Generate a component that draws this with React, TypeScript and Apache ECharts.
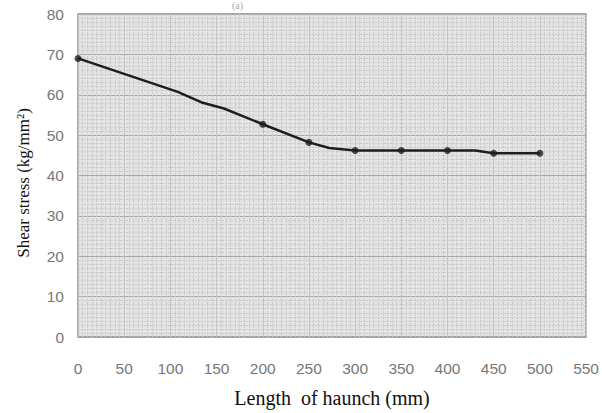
import React, { useEffect, useRef } from "react";
import * as echarts from "echarts";

const xTicks = [0, 50, 100, 150, 200, 250, 300, 350, 400, 450, 500, 550];
const yTicks = [0, 10, 20, 30, 40, 50, 60, 70, 80];
// measured points (with markers)
const markerX = [0, 200, 250, 300, 350, 400, 450, 500];
const markerY = [69, 52.7, 48.2, 46.2, 46.2, 46.2, 45.5, 45.5];
// curve path vertices (including unmarked bends)
const curveX = [0, 108, 135, 158, 200, 250, 272, 300, 350, 400, 430, 450, 500];
const curveY = [69, 60.7, 58, 56.6, 52.7, 48.2, 46.8, 46.2, 46.2, 46.2, 46.2, 45.5, 45.5];
const yTitle = "Shear stress (kg/mm²)";
const xTitle = "Length  of haunch (mm)";

export default function App() {
  const ref = useRef<HTMLDivElement>(null);
  useEffect(() => {
    if (!ref.current) return;
    const chart = echarts.init(ref.current, undefined, { renderer: "svg" });
    chart.setOption({
      animation: false,
      backgroundColor: "#ffffff",
      grid: {
        left: 78,
        right: 14,
        top: 14,
        bottom: 76,
        show: true,
        backgroundColor: "#e4e4e4",
        borderColor: "#8a8a8a",
        borderWidth: 1.5,
      },
      graphic: [
        {
          type: "text",
          left: 232,
          top: 0,
          style: { text: "(a)", font: "10px 'Liberation Serif', serif", fill: "#aaa" },
        },
        {
          type: "text",
          x: 23,
          y: 183,
          rotation: Math.PI / 2,
          style: {
            text: yTitle,
            font: "17px 'Liberation Serif', serif",
            fill: "#111",
            align: "center",
            verticalAlign: "middle",
          },
        },
      ],
      xAxis: {
        type: "value",
        min: xTicks[0],
        max: xTicks[xTicks.length - 1],
        interval: 50,
        name: xTitle,
        nameLocation: "middle",
        nameGap: 51,
        nameTextStyle: { fontFamily: "'Liberation Serif', serif", fontSize: 20, color: "#111" },
        axisLine: { show: false },
        axisTick: { show: false },
        axisLabel: { margin: 23, color: "#777", fontSize: 15.5, fontFamily: "'Liberation Sans', Arial, sans-serif" },
        splitLine: { show: true, lineStyle: { color: "#c4c4c4", width: 1 } },
        minorTick: { show: false, splitNumber: 10 },
        minorSplitLine: { show: true, lineStyle: { color: "#cbcbcb", width: 1, type: [2, 1] } },
      },
      yAxis: {
        type: "value",
        min: yTicks[0],
        max: yTicks[yTicks.length - 1],
        interval: 10,
        axisLine: { show: false },
        axisTick: { show: false },
        axisLabel: { margin: 14, color: "#777", fontSize: 15.5, fontFamily: "'Liberation Sans', Arial, sans-serif" },
        splitLine: { show: true, lineStyle: { color: "#a8a8a8", width: 1 } },
        minorTick: { show: false, splitNumber: 10 },
        minorSplitLine: { show: true, lineStyle: { color: "#cbcbcb", width: 1, type: [2, 1] } },
      },
      series: [
        {
          type: "line",
          data: curveX.map((x, i) => [x, curveY[i]]),
          symbol: "none",
          lineStyle: { color: "#1e1e1e", width: 2.5 },
          z: 3,
        },
        {
          type: "scatter",
          data: markerX.map((x, i) => [x, markerY[i]]),
          symbol: "circle",
          symbolSize: 7,
          itemStyle: { color: "#1e1e1e" },
          z: 4,
        },
      ],
    });
    return () => chart.dispose();
  }, []);
  return <div ref={ref} style={{ position: "fixed", left: 0, top: 0, width: 602, height: 413 }} />;
}
